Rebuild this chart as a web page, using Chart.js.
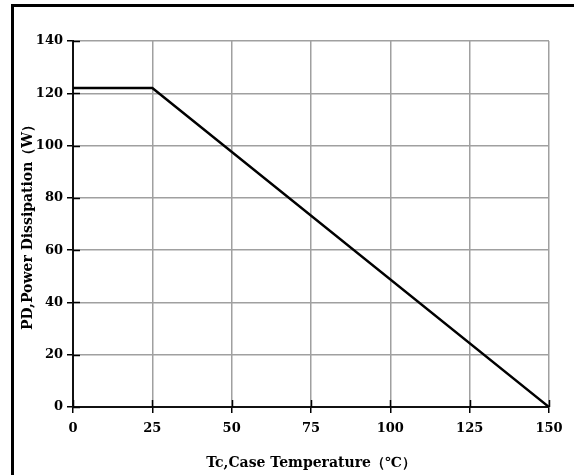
<!DOCTYPE html>
<html>
<head>
<meta charset="utf-8">
<script src="https://cdn.jsdelivr.net/npm/chart.js@4/dist/chart.umd.min.js"></script>
<style>
  html, body { margin: 0; padding: 0; background: #fff; }
  #wrap { position: relative; width: 574px; height: 475px; }
  #frame { position: absolute; left: 11px; top: 4px; right: 0; bottom: 0;
           border-left: 3px solid #000; border-top: 3px solid #000; pointer-events: none; }
  canvas { position: absolute; left: 0; top: 0; }
</style>
</head>
<body>
<div id="wrap">
  <canvas id="c" width="574" height="475"></canvas>
  <div id="frame"></div>
</div>
<script>
// Data
const caseTemp = [0, 25, 150];          // Tc (°C)
const powerDissipation = [122, 122, 0]; // PD (W)
const xTicks = [0, 25, 50, 75, 100, 125, 150];
const yTicks = [0, 20, 40, 60, 80, 100, 120, 140];
const xTitle = 'Tc,Case Temperature（℃）';
const yTitle = 'PD,Power Dissipation（W）';

const points = caseTemp.map((x, i) => ({ x: x, y: powerDissipation[i] }));

const innerTicks = {
  id: 'innerTicks',
  afterDatasetsDraw(chart) {
    const ctx = chart.ctx;
    const xs = chart.scales.x, ys = chart.scales.y;
    ctx.save();
    ctx.strokeStyle = '#000';
    ctx.lineWidth = 1.5;
    ctx.beginPath();
    xTicks.forEach(v => {
      const px = Math.round(xs.getPixelForValue(v)) + 0.5;
      ctx.moveTo(px, ys.bottom);
      ctx.lineTo(px, ys.bottom - 7);
    });
    yTicks.forEach(v => {
      const py = Math.round(ys.getPixelForValue(v)) + 0.5;
      ctx.moveTo(xs.left, py);
      ctx.lineTo(xs.left + 7, py);
    });
    ctx.stroke();
    ctx.restore();
  }
};

new Chart(document.getElementById('c'), {
  type: 'line',
  data: {
    datasets: [{
      data: points,
      borderColor: '#000',
      borderWidth: 2.5,
      pointRadius: 0,
      tension: 0,
      fill: false
    }]
  },
  options: {
    responsive: false,
    animation: false,
    layout: { padding: { left: 0, top: 41, right: 25, bottom: 0 } },
    plugins: { legend: { display: false }, tooltip: { enabled: false } },
    scales: {
      x: {
        type: 'linear',
        min: 0, max: 150,
        afterBuildTicks: s => { s.ticks = xTicks.map(v => ({ value: v })); },
        afterFit: s => { s.height = 68; },
        grid: { color: '#a0a0a0', lineWidth: 1.5, tickLength: 6, tickColor: '#000', tickWidth: 1.5 },
        border: { color: '#111', width: 2 },
        ticks: { color: '#000', padding: 8, maxRotation: 0, font: { family: 'DejaVu Serif', weight: 'bold', size: 13 } },
        title: { display: true, text: xTitle, color: '#000', padding: { top: 0, bottom: 3 },
                 font: { family: 'DejaVu Serif', weight: 'bold', size: 14 } }
      },
      y: {
        min: 0, max: 140,
        afterBuildTicks: s => { s.ticks = yTicks.map(v => ({ value: v })); },
        afterFit: s => { s.width = 73; },
        grid: { color: '#a0a0a0', lineWidth: 1.5, tickLength: 6, tickColor: '#000', tickWidth: 1.5 },
        border: { color: '#111', width: 2 },
        ticks: { color: '#000', padding: 4, font: { family: 'DejaVu Serif', weight: 'bold', size: 13 } },
        title: { display: true, text: yTitle, color: '#000', padding: { top: 20, bottom: 0 },
                 font: { family: 'DejaVu Serif', weight: 'bold', size: 14 } }
      }
    }
  },
  plugins: [innerTicks]
});
</script>
</body>
</html>
